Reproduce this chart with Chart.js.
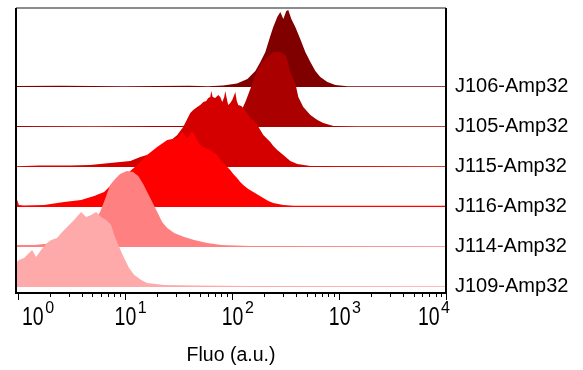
<!DOCTYPE html>
<html>
<head>
<meta charset="utf-8">
<script src="https://cdn.jsdelivr.net/npm/chart.js@4.4.1/dist/chart.umd.min.js"></script>
<style>
  html, body { margin: 0; padding: 0; background: #fff; }
  #wrap { width: 583px; height: 370px; }
</style>
</head>
<body>
<div id="wrap"><canvas id="chart" width="583" height="370"></canvas></div>
<script>
// samples from bottom row to top row
const samples = ['J109-Amp32', 'J114-Amp32', 'J116-Amp32', 'J115-Amp32', 'J105-Amp32', 'J106-Amp32'];
const colors = ['#ffaaaa', '#ff8080', '#ff0000', '#d40000', '#aa0000', '#800000'];

// histogram bins (fluo, a.u.) and counts
const j109Fluo = [0.97, 1.03, 1.15, 1.28, 1.37, 1.49, 1.66, 1.89, 2.06, 2.34, 2.61, 3.03, 3.37, 3.92, 4.37, 4.86, 5.42, 6.03, 6.71, 7.48, 7.98, 8.89, 9.89, 11.0, 12.3, 14.3, 16.2, 23.4, 47.6, 140, 10000];
const j109Count = [24, 27, 29, 34, 37, 30, 37, 44, 47, 49, 55, 62, 67, 75, 70, 72, 75, 70, 67, 62, 52, 40, 29, 19, 12, 7, 4, 2, 1.5, 1, 0.8];

const j114Fluo = [0.97, 1.43, 1.77, 2.5, 3.84, 4.76, 5.9, 6.57, 7.32, 8.15, 9.07, 10.5, 12.0, 13.4, 14.9, 16.6, 18.5, 20.6, 22.4, 25.0, 29.0, 36.0, 44.6, 59.0, 79.8, 149, 10000];
const j114Count = [2, 2, 3, 4, 12, 20, 35, 48, 62, 68, 73, 76, 75, 71, 63, 53, 43, 33, 25, 19, 14, 10, 7, 4, 2, 1, 0.8];

const j116Fluo = [0.97, 1.03, 1.15, 1.77, 2.72, 3.92, 5.19, 6.43, 7.32, 9.7, 13.1, 16.2, 20.1, 25.0, 31.0, 34.5, 38.4, 42.7, 47.6, 50.8, 54.2, 59.0, 63.0, 67.1, 73.2, 78.1, 83.3, 90.8, 96.8, 103.3, 112, 120, 128, 142.6, 159, 176.9, 197, 219.4, 244, 303, 376, 10000];
const j116Count = [10, 2, 1.5, 2, 5, 7, 11, 15, 21, 30, 42, 52, 60, 67, 69, 75, 69, 76, 67, 62, 60, 58, 57, 55, 52, 47, 44, 40, 37, 33, 29, 25, 22, 18, 15, 12, 9, 6, 4, 2, 1.2, 1.2];

const j115Fluo = [0.97, 1.62, 3.1, 4.76, 7.3, 11.3, 14.0, 17.3, 21.5, 26.6, 31.0, 35.2, 41.0, 43.7, 47.6, 50.8, 54.2, 57.8, 60.3, 63.0, 64.3, 66.4, 70.1, 74.8, 78.1, 81.5, 85.1, 86.9, 90.8, 92.7, 96.8, 101, 105.5, 108, 111.4, 115, 122.7, 128, 139.6, 149, 162.2, 173, 184.6, 197, 214.6, 229, 244.3, 266, 303, 352, 409, 542, 10000];
const j115Count = [0.8, 1.5, 1.5, 2, 4, 6, 10, 13, 19, 26, 32, 40, 54, 57, 60, 62, 65, 66, 69, 70, 76, 70, 69, 72, 70, 65, 70, 76, 66, 62, 64, 67, 72, 75, 66, 62, 61, 59, 54, 49, 46, 42, 37, 32, 28, 25, 21, 17, 12, 6, 3, 1, 0.8];

const j105Fluo = [0.97, 5, 20, 34, 70, 97, 120, 134, 149, 156, 173, 193, 215, 244, 284, 316, 330, 352, 392, 418, 465, 542, 630, 716, 889, 1500, 10000];
const j105Count = [1, 0.8, 1, 1, 3, 8, 14, 25, 38, 44, 57, 65, 70, 75, 75, 72, 67, 55, 44, 30, 20, 12, 7, 4, 1, 0.8, 0.8];

const j106Fluo = [0.97, 2.5, 10, 40, 60, 83, 112, 140, 166, 185, 206, 229, 244, 266, 284, 303, 323, 337, 360, 392, 436, 486, 542, 603, 671, 781, 927, 1200, 2000, 10000];
const j106Count = [1, 1.2, 0.7, 1.2, 0.7, 1.5, 3.4, 8, 16, 25, 35, 51, 60, 70, 75, 68, 76, 77, 68, 60, 48, 35, 25, 16, 10, 5, 2, 0.7, 0.7, 0.7];

const fluoList = [j109Fluo, j114Fluo, j116Fluo, j115Fluo, j105Fluo, j106Fluo];
const countList = [j109Count, j114Count, j116Count, j115Count, j105Count, j106Count];

const rowStep = 40;     // vertical offset between stacked histograms
const decades = [1, 10, 100, 1000, 10000];

const datasets = samples.map((name, i) => {
    const base = i * rowStep;
    return {
        label: name,
        data: fluoList[i].map((f, k) => ({ x: f, y: base + countList[i][k] })),
        borderColor: colors[i],
        backgroundColor: colors[i],
        borderWidth: 0,
        pointRadius: 0,
        tension: 0,
        fill: { value: base }
    };
});

const framePlugin = {
    id: 'frame',
    afterDraw(chart) {
        const { ctx, chartArea: a, scales: { x, y } } = chart;
        ctx.save();

        // frame
        ctx.lineWidth = 2;
        ctx.strokeStyle = '#8c8c8c';
        ctx.beginPath(); ctx.moveTo(a.left, a.top); ctx.lineTo(a.right, a.top); ctx.stroke();
        ctx.strokeStyle = '#000';
        ctx.beginPath();
        ctx.moveTo(a.left, a.top); ctx.lineTo(a.left, a.bottom);
        ctx.lineTo(a.right, a.bottom); ctx.lineTo(a.right, a.top);
        ctx.stroke();

        // ticks on the log axis
        ctx.lineWidth = 1;
        for (let d = 0; d < decades.length; d++) {
            for (let m = 1; m <= 9; m++) {
                const v = decades[d] * m;
                if (v < x.min || v > x.max) continue;
                const px = Math.round(x.getPixelForValue(v)) + 0.5;
                const len = m === 1 ? 7 : 4;
                ctx.beginPath(); ctx.moveTo(px, a.bottom); ctx.lineTo(px, a.bottom + len); ctx.stroke();
            }
        }

        // tick labels 10^n
        ctx.fillStyle = '#000';
        ctx.textBaseline = 'alphabetic';
        ctx.textAlign = 'left';
        decades.forEach((v, n) => {
            const px = x.getPixelForValue(v);
            ctx.font = '19.5px Arial, "Liberation Sans", sans-serif';
            const wBase = ctx.measureText('10').width;
            ctx.font = '16px Arial, "Liberation Sans", sans-serif';
            const wExp = ctx.measureText(String(n)).width;
            const w = wBase + 1.5 + wExp;
            let left = px + 6 - w / 2;
            left = Math.max(left, a.left + 6);
            left = Math.min(left, a.right + 4 - w);
            ctx.save();
            ctx.translate(left, 325);
            ctx.scale(1, 1.3);
            ctx.font = '19.5px Arial, "Liberation Sans", sans-serif';
            ctx.fillText('10', 0, 0);
            ctx.restore();
            ctx.font = '16px Arial, "Liberation Sans", sans-serif';
            ctx.fillText(String(n), left + wBase + 1.5, 313);
        });

        // axis title
        ctx.font = '19.5px Arial, "Liberation Sans", sans-serif';
        ctx.textAlign = 'center';
        ctx.fillText('Fluo (a.u.)', (a.left + a.right) / 2, 361);

        // sample names at each baseline
        ctx.font = '20px Arial, "Liberation Sans", sans-serif';
        ctx.textAlign = 'left';
        samples.forEach((name, i) => {
            ctx.fillText(name, a.right + 9, y.getPixelForValue(i * rowStep) + 4.7);
        });

        ctx.restore();
    }
};

new Chart(document.getElementById('chart').getContext('2d'), {
    type: 'line',
    data: { datasets },
    options: {
        responsive: false,
        animation: false,
        layout: { padding: { left: 16, right: 137, top: 8, bottom: 77 } },
        plugins: { legend: { display: false }, tooltip: { enabled: false } },
        scales: {
            x: { type: 'logarithmic', min: 0.968, max: 10000, display: false },
            y: { type: 'linear', min: -6, max: 279, display: false }
        }
    },
    plugins: [framePlugin]
});
</script>
</body>
</html>
